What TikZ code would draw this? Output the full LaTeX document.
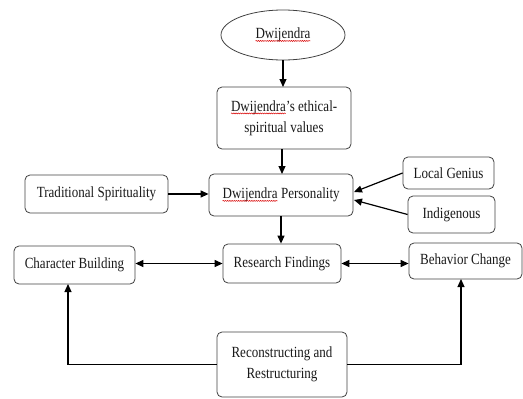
\documentclass[tikz,border=0pt]{standalone}
\usepackage{fontspec}
\setmainfont[FakeStretch=0.84]{Liberation Serif}
\usetikzlibrary{arrows.meta,decorations.pathmorphing,calc,shapes.geometric}
\newcommand{\wavyword}[1]{\tikz[baseline=(W.base)]{\node[shape=rectangle,draw=none,fill=none,inner sep=0pt,outer sep=0pt,minimum width=0pt,minimum height=0pt,anchor=base,rounded corners=0pt] (W) {#1};\draw[red!85!black,line width=0.5pt,rounded corners=0pt,decorate,decoration={snake,amplitude=0.5pt,segment length=2.2pt}] ([yshift=-2.2pt]W.base west) -- ([yshift=-2.2pt]W.base east);}}
\begin{document}
\begin{tikzpicture}[x=1pt,y=-1pt,
  box/.style={draw=black!75,line width=0.8pt,rounded corners=5pt,align=center,inner sep=2pt,
    text=black!90,font=\fontsize{15.5}{21}\selectfont},
  tip/.tip={Triangle[length=8pt,width=7pt]},
  arr/.style={line width=1.2pt,-tip},
  darr/.style={line width=1.2pt,tip-tip}]
\useasboundingbox (0,0) rectangle (523,399);
\node[box,ellipse,minimum width=124pt,minimum height=50pt,rounded corners=0pt] (ell) at (283,35) {\wavyword{Dwijendra}};
\node[box,minimum width=134pt,minimum height=62pt] (eth) at (284,118) {\wavyword{Dwijendra}’s ethical-\\spiritual values};
\node[box,minimum width=143pt,minimum height=38pt] (trad) at (96.5,194) {Traditional Spirituality};
\node[box,minimum width=144pt,minimum height=42pt] (pers) at (281,195) {\wavyword{Dwijendra} Personality};
\node[box,minimum width=91pt,minimum height=32pt] (lg) at (448.5,173) {Local Genius};
\node[box,minimum width=87pt,minimum height=37pt] (ind) at (451.5,214.5) {Indigenous};
\node[box,minimum width=118pt,minimum height=39pt] (rf) at (282,263.5) {Research Findings};
\node[box,minimum width=121pt,minimum height=38pt] (cb) at (74.5,265) {Character Building};
\node[box,minimum width=113pt,minimum height=36pt] (bc) at (465.5,261) {Behavior Change};
\node[box,minimum width=130pt,minimum height=65pt] (rr) at (282,364.5) {Reconstructing and\\Restructuring};
\coordinate (ethin) at (283,87);
\coordinate (persin) at (282,174);
\coordinate (ethout) at (282,149);
\coordinate (persout) at (281,216);
\coordinate (lgtip) at (354,192);
\coordinate (indtip) at (354,200);
\coordinate (cbin) at (68,284);
\coordinate (bcin) at (461,279);
\draw[arr] (ell.south) -- (ethin);
\draw[arr] (ethout) -- (persin);
\draw[arr] (trad.east) -- (pers.west |- trad.east);
\draw[arr] (lg.west) -- (lgtip);
\draw[arr] (ind.west) -- (indtip);
\draw[arr] (persout) -- (rf.north -| persout);
\draw[darr] (cb.east |- rf.west) -- (rf.west);
\draw[darr] (rf.east) -- (bc.west |- rf.east);
\draw[arr] (rr.west) -| (cbin);
\draw[arr] (rr.east) -| (bcin);
\end{tikzpicture}
\end{document}
